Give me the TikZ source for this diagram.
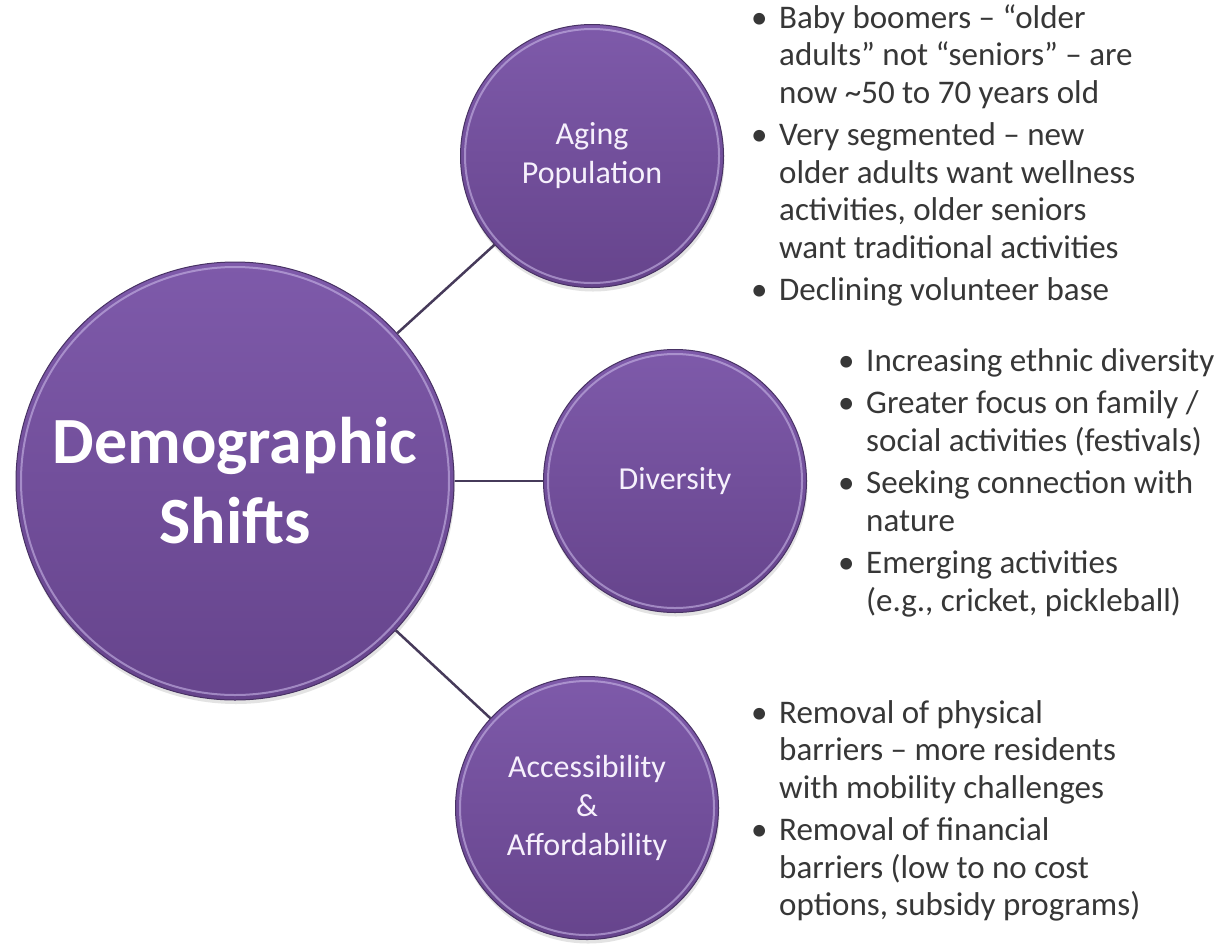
\documentclass[tikz,border=0pt]{standalone}
\usepackage{fontspec}
\setmainfont{Carlito}
\usetikzlibrary{shadows}

\definecolor{discTop}{RGB}{126,90,170}
\definecolor{discBottom}{RGB}{102,68,140}
\definecolor{discEdge}{RGB}{72,50,100}
\definecolor{discRim}{RGB}{200,182,230}
\definecolor{linkLine}{RGB}{70,58,90}
\definecolor{bodyText}{RGB}{55,55,55}
\definecolor{discLabel}{RGB}{246,240,252}

% one bulleted line, one hanging continuation line, and the gap between items
\newcommand\bulletline[1]{\hbox{\makebox[21pt][l]{\hspace*{-7pt}\textbullet}#1}}
\newcommand\contline[1]{\hbox{\hspace*{21pt}#1}}
\newcommand\itemgap{\vskip 5pt}

\begin{document}
\begin{tikzpicture}[x=1pt,y=-1pt,
  disc/.style={circle, inner sep=0pt, top color=discTop, bottom color=discBottom,
    draw=discEdge, line width=1pt, text=discLabel, align=center,
    drop shadow={shadow xshift=1pt, shadow yshift=-4pt, opacity=0.22}},
  bigdisc/.style={disc, minimum size=438pt, text=white,
    font=\fontsize{66}{80}\selectfont\bfseries},
  smalldisc/.style={disc, minimum size=263pt, font=\fontsize{32}{39}\selectfont},
  rim/.style={draw=discRim, line width=2pt, opacity=0.6},
  link/.style={draw=linkLine, line width=2.5pt},
  listtext/.style={inner sep=0pt, anchor=base west, text=bodyText,
    font=\fontsize{33}{37.5}\selectfont}]

\useasboundingbox[fill=white] (0,0) rectangle (1223,943);

% the central topic and its three branches
\node[bigdisc] (main) at (235,481) {Demographic\\Shifts};
\node[smalldisc] (aging) at (592,156) {Aging\\Population};
\node[smalldisc] (diversity) at (675,481) {Diversity};
\node[smalldisc] (access) at (587,808) {Accessibility\\\&\\Affordability};

% soft highlight just inside each disc edge
\draw[rim] (main.center) circle[radius=214pt];
\draw[rim] (aging.center) circle[radius=127pt];
\draw[rim] (diversity.center) circle[radius=127pt];
\draw[rim] (access.center) circle[radius=127pt];

% connectors
\draw[link] (main) -- (aging);
\draw[link] (main) -- (diversity);
\draw[link] (main) -- (access);

% bullet lists beside each branch
\node[listtext] (agingList) at (758,28) {\vtop{%
  \bulletline{Baby boomers – “older}
  \contline{adults” not “seniors” – are}
  \contline{now \textasciitilde50 to 70 years old}
  \itemgap
  \bulletline{Very segmented – new}
  \contline{older adults want wellness}
  \contline{activities, older seniors}
  \contline{want traditional activities}
  \itemgap
  \bulletline{Declining volunteer base}}};

\node[listtext] (diversityList) at (845,371) {\vtop{%
  \bulletline{Increasing ethnic diversity}
  \itemgap
  \bulletline{Greater focus on family /}
  \contline{social activities (festivals)}
  \itemgap
  \bulletline{Seeking connection with}
  \contline{nature}
  \itemgap
  \bulletline{Emerging activities}
  \contline{(e.g., cricket, pickleball)}}};

\node[listtext] (accessList) at (758,723) {\vtop{%
  \bulletline{Removal of physical}
  \contline{barriers – more residents}
  \contline{with mobility challenges}
  \itemgap
  \bulletline{Removal of financial}
  \contline{barriers (low to no cost}
  \contline{options, subsidy programs)}}};

\end{tikzpicture}
\end{document}
